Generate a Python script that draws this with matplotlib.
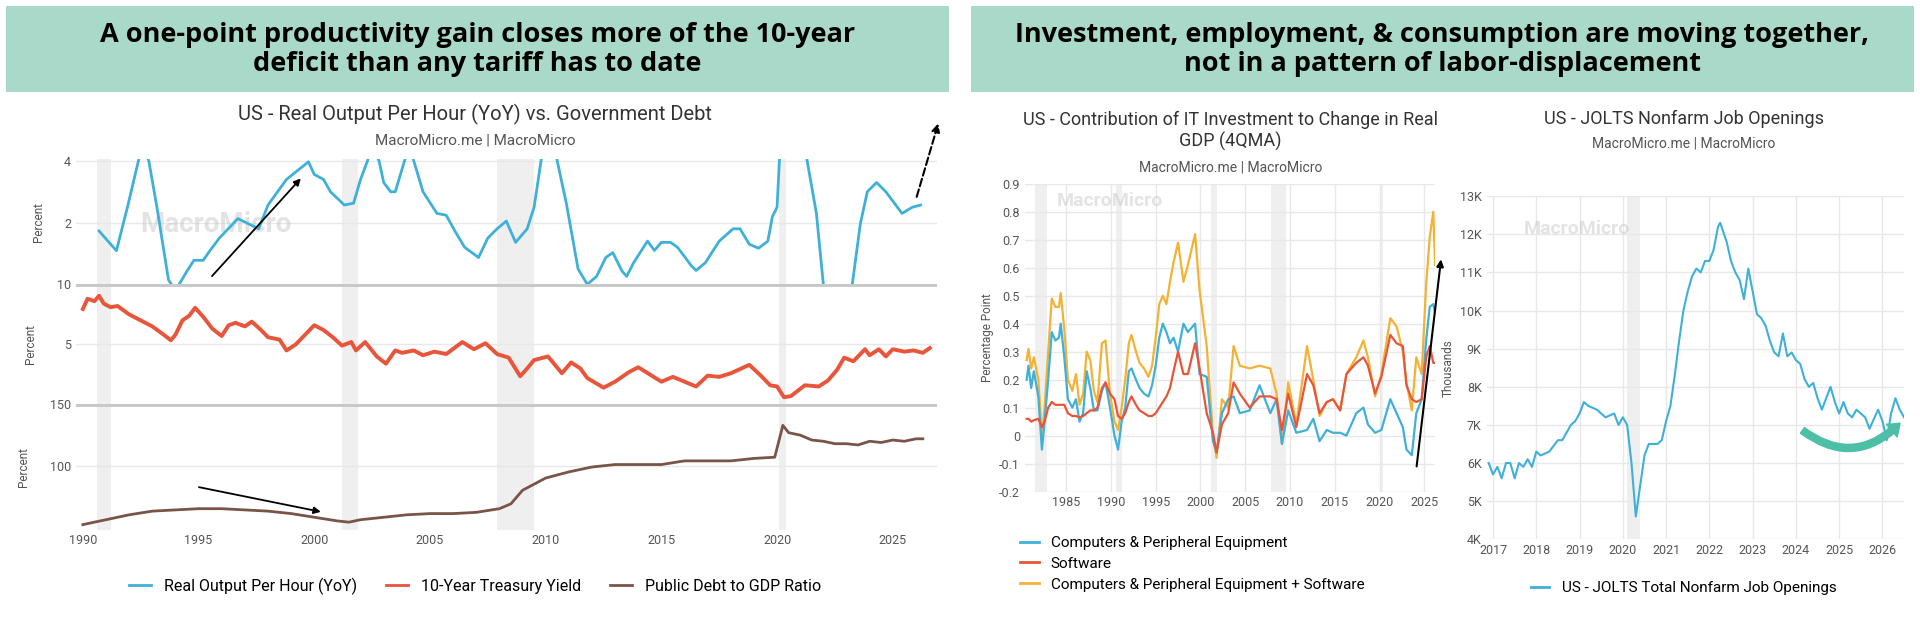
import matplotlib
matplotlib.use("Agg")
import matplotlib.pyplot as plt
from matplotlib.patches import Rectangle
from matplotlib.lines import Line2D
import numpy as np

plt.rcParams['font.family'] = ['Roboto', 'DejaVu Sans']

# ---------------- data: left chart ----------------
prod_x = [1990.7,1991.45,1991.95,1992.4,1992.6,1992.85,1993.2,1993.7,1994.0,1994.5,1994.8,1995.2,1995.5,1995.9,1996.7,1997.6,1998.0,1998.8,1999.3,1999.75,2000.0,2000.4,2000.7,2001.3,2001.7,2002.0,2002.3,2002.5,2002.8,2003.0,2003.3,2003.5,2003.9,2004.1,2004.3,2004.7,2005.3,2005.7,2006.1,2006.5,2007.1,2007.5,2007.9,2008.3,2008.7,2009.2,2009.5,2009.8,2010.1,2010.5,2010.9,2011.4,2011.8,2012.2,2012.6,2012.9,2013.3,2013.5,2013.8,2014.4,2014.7,2015.0,2015.4,2015.7,2016.3,2016.5,2016.9,2017.5,2018.1,2018.4,2018.8,2019.2,2019.6,2019.8,2020.0,2020.1,2020.5,2021.0,2021.3,2021.7,2022.0,2022.3,2022.9,2023.25,2023.6,2023.9,2024.3,2024.7,2025.4,2025.85,2026.2]
prod_y = [1.73,1.09,2.57,4.0,4.6,4.0,2.5,0.15,-0.2,0.43,0.78,0.78,1.1,1.5,2.13,1.8,2.57,3.4,3.7,3.97,3.56,3.4,3.0,2.57,2.63,3.4,4.0,4.5,4.0,3.3,3.0,3.0,4.0,4.5,4.0,3.0,2.3,2.24,1.7,1.2,0.87,1.5,1.8,2.05,1.36,1.8,2.5,4.0,5.5,4.0,2.6,0.5,0.0,0.26,0.87,1.03,0.43,0.26,0.7,1.4,1.1,1.36,1.36,1.2,0.6,0.45,0.7,1.4,1.8,1.8,1.3,1.17,1.4,2.2,2.5,4.0,8.0,6.0,4.0,2.3,0.0,-1.5,-1.0,0.0,1.97,3.0,3.3,3.0,2.3,2.5,2.57]

yield_x = [1990.0,1990.2,1990.5,1990.7,1990.9,1991.2,1991.5,1992.0,1992.5,1993.0,1993.5,1993.8,1994.0,1994.3,1994.6,1994.85,1995.2,1995.6,1996.0,1996.3,1996.6,1997.0,1997.3,1997.7,1998.0,1998.5,1998.8,1999.2,1999.6,2000.0,2000.4,2000.8,2001.2,2001.6,2001.8,2002.2,2002.7,2003.1,2003.5,2003.8,2004.3,2004.7,2005.2,2005.7,2006.4,2006.9,2007.4,2007.9,2008.4,2008.9,2009.2,2009.5,2010.1,2010.7,2011.1,2011.5,2011.8,2012.5,2013.0,2013.6,2014.0,2014.5,2015.0,2015.5,2016.0,2016.5,2017.0,2017.5,2018.0,2018.8,2019.3,2019.7,2020.0,2020.3,2020.6,2021.2,2021.8,2022.2,2022.6,2022.9,2023.3,2023.8,2024.0,2024.4,2024.7,2025.0,2025.5,2025.9,2026.3,2026.6]
yield_y = [7.95,8.8,8.6,9.05,8.4,8.1,8.2,7.5,7.0,6.5,5.8,5.35,5.8,7.0,7.4,8.05,7.3,6.3,5.7,6.6,6.8,6.5,6.9,6.2,5.6,5.4,4.5,5.0,5.8,6.6,6.2,5.6,4.9,5.2,4.5,5.2,4.0,3.4,4.5,4.3,4.5,4.1,4.4,4.2,5.2,4.6,5.1,4.2,3.9,2.35,3.0,3.7,4.0,2.6,3.5,3.0,2.2,1.4,1.9,2.7,3.1,2.5,1.9,2.3,1.9,1.5,2.4,2.3,2.6,3.3,2.4,1.6,1.5,0.6,0.7,1.6,1.5,2.0,2.9,3.9,3.6,4.6,4.1,4.6,4.0,4.6,4.4,4.5,4.3,4.7]

debt_x = [1990.0,1991.0,1992.0,1993.0,1994.0,1995.0,1996.0,1997.0,1998.0,1999.0,2000.0,2001.0,2001.5,2002.0,2003.0,2004.0,2005.0,2006.0,2007.0,2008.0,2008.5,2009.0,2009.5,2010.0,2011.0,2012.0,2013.0,2014.0,2015.0,2016.0,2017.0,2018.0,2019.0,2019.9,2020.25,2020.5,2021.0,2021.5,2022.0,2022.5,2023.0,2023.5,2024.0,2024.5,2025.0,2025.5,2026.0,2026.3]
debt_y = [52,56,60,63,64,65,65,64,63,61,58,55,54,56,58,60,61,61,62,65,69,80,85,90,95,99,101,101,101,104,104,104,106,107,133,127,125,121,120,118,118,117,120,119,121,120,122,122]

# ---------------- data: middle chart ----------------
it_x = [1980.6,1980.8,1981.1,1981.4,1981.9,1982.3,1982.6,1983.0,1983.4,1983.8,1984.2,1984.4,1984.8,1985.2,1985.7,1986.1,1986.5,1986.9,1987.3,1987.7,1988.1,1988.5,1989.0,1989.4,1989.9,1990.4,1990.8,1991.2,1991.6,1992.0,1992.3,1992.8,1993.2,1993.7,1994.2,1994.6,1995.0,1995.4,1995.8,1996.2,1996.6,1997.0,1997.5,1998.1,1998.6,1999.4,1999.9,2000.7,2001.4,2001.8,2002.4,2003.1,2003.7,2004.4,2005.5,2006.6,2007.8,2008.5,2009.1,2009.8,2010.7,2011.9,2012.6,2013.3,2014.1,2014.8,2015.6,2016.3,2017.4,2018.2,2018.7,2019.5,2020.2,2021.2,2021.9,2022.6,2023.0,2023.6,2024.1,2024.7,2025.2,2025.6,2026.0,2026.2]
it_total = [0.27,0.31,0.24,0.28,0.20,0.00,0.10,0.30,0.49,0.46,0.46,0.51,0.38,0.20,0.16,0.22,0.11,0.15,0.30,0.27,0.16,0.12,0.33,0.34,0.15,0.05,0.02,0.10,0.20,0.33,0.36,0.30,0.26,0.24,0.21,0.25,0.35,0.47,0.50,0.47,0.55,0.62,0.69,0.55,0.61,0.72,0.52,0.32,0.00,-0.08,0.13,0.10,0.32,0.25,0.24,0.25,0.24,0.15,-0.03,0.19,0.04,0.32,0.20,0.07,0.12,0.13,0.09,0.22,0.28,0.34,0.28,0.14,0.22,0.42,0.39,0.30,0.19,0.09,0.28,0.22,0.54,0.71,0.80,0.61]
it_comp = [0.20,0.25,0.17,0.23,0.14,-0.05,0.05,0.20,0.37,0.34,0.35,0.40,0.28,0.13,0.10,0.13,0.05,0.08,0.23,0.17,0.09,0.09,0.16,0.19,0.10,0.00,-0.05,0.05,0.10,0.23,0.24,0.20,0.17,0.15,0.14,0.18,0.25,0.35,0.40,0.37,0.33,0.35,0.30,0.40,0.37,0.40,0.22,0.21,-0.02,-0.06,0.08,0.13,0.14,0.08,0.09,0.18,0.08,0.13,-0.03,0.09,0.01,0.02,0.06,-0.02,0.02,0.01,0.01,0.00,0.08,0.10,0.04,0.01,0.02,0.13,0.08,0.03,-0.05,-0.07,0.08,0.13,0.34,0.46,0.47,0.44]
it_soft = [0.06,0.06,0.05,0.055,0.06,0.03,0.05,0.10,0.12,0.11,0.11,0.11,0.11,0.08,0.07,0.07,0.065,0.07,0.08,0.09,0.09,0.10,0.17,0.19,0.15,0.13,0.07,0.06,0.08,0.12,0.14,0.11,0.09,0.08,0.07,0.07,0.08,0.10,0.12,0.14,0.17,0.23,0.30,0.22,0.22,0.33,0.24,0.08,0.01,-0.06,0.04,0.08,0.19,0.15,0.10,0.14,0.14,0.13,0.02,0.15,0.03,0.22,0.18,0.08,0.12,0.13,0.09,0.22,0.26,0.28,0.25,0.15,0.21,0.36,0.33,0.32,0.18,0.13,0.12,0.13,0.28,0.32,0.26,0.26]

# ---------------- data: right chart ----------------
jolts_x = [2016.9,2017.0,2017.1,2017.2,2017.3,2017.4,2017.5,2017.6,2017.7,2017.8,2017.9,2018.0,2018.1,2018.3,2018.5,2018.6,2018.8,2018.9,2019.0,2019.1,2019.2,2019.4,2019.6,2019.8,2019.9,2020.0,2020.1,2020.2,2020.3,2020.4,2020.5,2020.6,2020.8,2020.9,2021.0,2021.1,2021.2,2021.3,2021.4,2021.5,2021.6,2021.7,2021.8,2021.9,2022.0,2022.1,2022.2,2022.25,2022.4,2022.5,2022.6,2022.7,2022.8,2022.9,2023.0,2023.1,2023.2,2023.3,2023.4,2023.5,2023.6,2023.7,2023.8,2023.9,2024.0,2024.1,2024.2,2024.3,2024.4,2024.5,2024.6,2024.7,2024.8,2024.9,2025.0,2025.1,2025.2,2025.3,2025.4,2025.5,2025.6,2025.7,2025.9,2026.0,2026.1,2026.2,2026.3,2026.4,2026.5]
jolts_y = [6.0,5.7,5.9,5.6,6.0,6.0,5.6,6.0,5.9,6.1,5.9,6.3,6.2,6.3,6.6,6.6,7.0,7.1,7.3,7.6,7.5,7.4,7.2,7.3,7.0,7.2,7.0,6.0,4.6,5.4,6.2,6.5,6.5,6.6,7.1,7.5,8.3,9.2,10.0,10.5,10.9,11.1,11.0,11.3,11.3,11.6,12.2,12.3,11.8,11.3,11.0,10.8,10.3,11.1,10.5,9.9,9.8,9.6,9.2,8.9,8.8,9.4,8.8,8.9,8.7,8.6,8.2,8.0,8.1,7.7,7.4,7.7,8.0,7.6,7.3,7.6,7.3,7.2,7.4,7.3,7.2,6.9,7.4,7.1,6.6,7.3,7.7,7.4,7.2]

recessions = [(1981.5, 1982.9), (1990.6, 1991.2), (2001.2, 2001.9), (2007.9, 2009.5), (2020.1, 2020.4)]

BLUE = "#3fb0d8"; RED = "#e8553a"; BROWN = "#7a5449"; ORANGE = "#f4b234"
GRID = "#e8e8e8"; TICK = "#555555"; BAND = "#a9d9c9"

W, H = 1568.0, 505.0
fig = plt.figure(figsize=(19.2, 6.19), dpi=100)
fig.patch.set_facecolor("white")

def rect(x0, y0, x1, y1):
    return [x0 / W, 1 - y1 / H, (x1 - x0) / W, (y1 - y0) / H]

# header bands
for (x0, x1, txt) in [(5, 775, "A one-point productivity gain closes more of the 10-year\ndeficit than any tariff has to date"),
                      (793, 1563, "Investment, employment, & consumption are moving together,\nnot in a pattern of labor-displacement")]:
    fig.patches.append(Rectangle((x0 / W, 1 - 75 / H), (x1 - x0) / W, 70 / H, transform=fig.transFigure,
                                 facecolor=BAND, edgecolor="none", zorder=0))
    fig.text((x0 + x1) / 2 / W, 1 - 40 / H, txt, ha="center", va="center", fontsize=19.5,
             fontweight="bold", linespacing=1.15, family=["Open Sans", "DejaVu Sans"])

def style(ax):
    for s in ax.spines.values():
        s.set_visible(False)
    ax.tick_params(length=0, colors=TICK, labelsize=9)
    ax.grid(axis="y", color=GRID, lw=1)
    ax.set_axisbelow(True)

def shade(ax, lo, hi):
    for a, b in recessions:
        if b > lo and a < hi:
            ax.axvspan(a, b, color="#efefef", zorder=0, lw=0)

XL = (1989.7, 2026.9)
# ---------------- left chart ----------------
fig.text(388 / W, 1 - 93 / H, "US - Real Output Per Hour (YoY) vs. Government Debt", ha="center", va="center", fontsize=14.5, color="#333333")
fig.text(388 / W, 1 - 115 / H, "MacroMicro.me | MacroMicro", ha="center", va="center", fontsize=11, color="#555555")

ax1 = fig.add_axes(rect(62, 130, 765, 232))
ax2 = fig.add_axes(rect(62, 232, 765, 330))
ax3 = fig.add_axes(rect(62, 330, 765, 432))
for ax in (ax1, ax2, ax3):
    style(ax); ax.set_xlim(*XL); shade(ax, *XL)
ax1.plot(prod_x, prod_y, color=BLUE, lw=2)
ax1.set_ylim(0, 4.05); ax1.set_yticks([2, 4])
ax2.plot(yield_x, yield_y, color=RED, lw=2.8)
ax2.set_ylim(0, 10); ax2.set_yticks([5, 10])
ax3.plot(debt_x, debt_y, color=BROWN, lw=2)
ax3.set_ylim(48, 150); ax3.set_yticks([100, 150])
for ax in (ax1, ax2):
    ax.set_xticks([])
ax3.set_xticks(range(1990, 2026, 5))
for ax in (ax2, ax3):
    ax.axhline(ax.get_ylim()[1], color="#c8c8c8", lw=3.5, zorder=3)
for ax in (ax1, ax2, ax3):
    ax.set_ylabel("Percent", color=TICK, fontsize=8.5, labelpad=14)
ax1.text(1992.5, 1.7, "MacroMicro", fontsize=20, color="#bbbbbb", alpha=0.4, fontweight="bold", zorder=1)
ax1.annotate("", xy=(1999.5, 3.5), xytext=(1995.5, 0.2),
             arrowprops=dict(arrowstyle="-|>", color="black", lw=1.3, mutation_scale=10))
ax1.annotate("", xy=(2027.0, 5.3), xytext=(2026.0, 2.75), annotation_clip=False,
             arrowprops=dict(arrowstyle="-|>", color="black", lw=1.5, linestyle="--", mutation_scale=12))
ax3.annotate("", xy=(2000.4, 62), xytext=(1994.9, 83),
             arrowprops=dict(arrowstyle="-|>", color="black", lw=1.3, mutation_scale=10))

h = [Line2D([], [], color=c, lw=2) for c in (BLUE, RED, BROWN)]
fig.legend(h, ["Real Output Per Hour (YoY)", "10-Year Treasury Yield", "Public Debt to GDP Ratio"],
           loc="center", bbox_to_anchor=(388 / W, 1 - 478 / H), ncol=3, frameon=False, fontsize=11.5,
           handlelength=1.4, columnspacing=1.8)

# ---------------- middle chart ----------------
fig.text(1005 / W, 1 - 107 / H, "US - Contribution of IT Investment to Change in Real\nGDP (4QMA)", ha="center", va="center", fontsize=13, color="#333333", linespacing=1.2)
fig.text(1005 / W, 1 - 137 / H, "MacroMicro.me | MacroMicro", ha="center", va="center", fontsize=10, color="#555555")
axm = fig.add_axes(rect(837, 150, 1172, 401))
style(axm)
axm.grid(axis="x", color=GRID, lw=1)
XM = (1980.4, 2026.2)
axm.set_xlim(*XM); shade(axm, *XM)
axm.plot(it_x, it_total, color=ORANGE, lw=1.6)
axm.plot(it_x, it_comp, color=BLUE, lw=1.6)
axm.plot(it_x, it_soft, color=RED, lw=1.6)
axm.set_ylim(-0.2, 0.9)
yt = np.round(np.arange(-0.2, 0.91, 0.1), 1)
axm.set_yticks(yt)
axm.set_yticklabels([f"{v:g}" for v in yt])
axm.set_xticks(range(1985, 2026, 5))
axm.set_ylabel("Percentage Point", color=TICK, fontsize=8.5)
axm.text(1984.0, 0.82, "MacroMicro", fontsize=14, color="#bbbbbb", alpha=0.4, fontweight="bold")
axm.annotate("", xy=(2026.9, 0.64), xytext=(2024.1, -0.12), annotation_clip=False,
             arrowprops=dict(arrowstyle="-|>", color="black", lw=1.5, mutation_scale=10))
h = [Line2D([], [], color=c, lw=2) for c in (BLUE, RED, ORANGE)]
fig.legend(h, ["Computers & Peripheral Equipment", "Software", "Computers & Peripheral Equipment + Software"],
           loc="upper left", bbox_to_anchor=(822 / W, 1 - 426 / H), frameon=False, fontsize=11,
           handlelength=1.2, labelspacing=0.45)

# ---------------- right chart ----------------
fig.text(1375 / W, 1 - 97 / H, "US - JOLTS Nonfarm Job Openings", ha="center", va="center", fontsize=13, color="#333333")
fig.text(1375 / W, 1 - 117 / H, "MacroMicro.me | MacroMicro", ha="center", va="center", fontsize=10, color="#555555")
axr = fig.add_axes(rect(1214, 160, 1555, 440))
style(axr)
axr.grid(axis="x", color=GRID, lw=1)
XR = (2016.85, 2026.5)
axr.set_xlim(*XR); shade(axr, *XR)
axr.plot(jolts_x, jolts_y, color=BLUE, lw=1.5)
axr.set_ylim(4, 13)
axr.set_yticks(range(4, 14))
axr.set_yticklabels([f"{v}K" for v in range(4, 14)])
axr.set_xticks(range(2017, 2027))
axr.set_ylabel("Thousands", color=TICK, fontsize=8.5, labelpad=4)
axr.text(2017.7, 12.0, "MacroMicro", fontsize=14, color="#bbbbbb", alpha=0.4, fontweight="bold")
axr.annotate("", xy=(2026.45, 7.1), xytext=(2024.1, 6.9),
             arrowprops=dict(arrowstyle="simple,head_width=1.2,head_length=0.8,tail_width=0.5",
                             color="#4cbfa6", connectionstyle="arc3,rad=0.45"))
h = [Line2D([], [], color=BLUE, lw=2)]
fig.legend(h, ["US - JOLTS Total Nonfarm Job Openings"], loc="center",
           bbox_to_anchor=(1375 / W, 1 - 480 / H), frameon=False, fontsize=11, handlelength=1.2)

fig.savefig("out.png", dpi=100, facecolor="white")
